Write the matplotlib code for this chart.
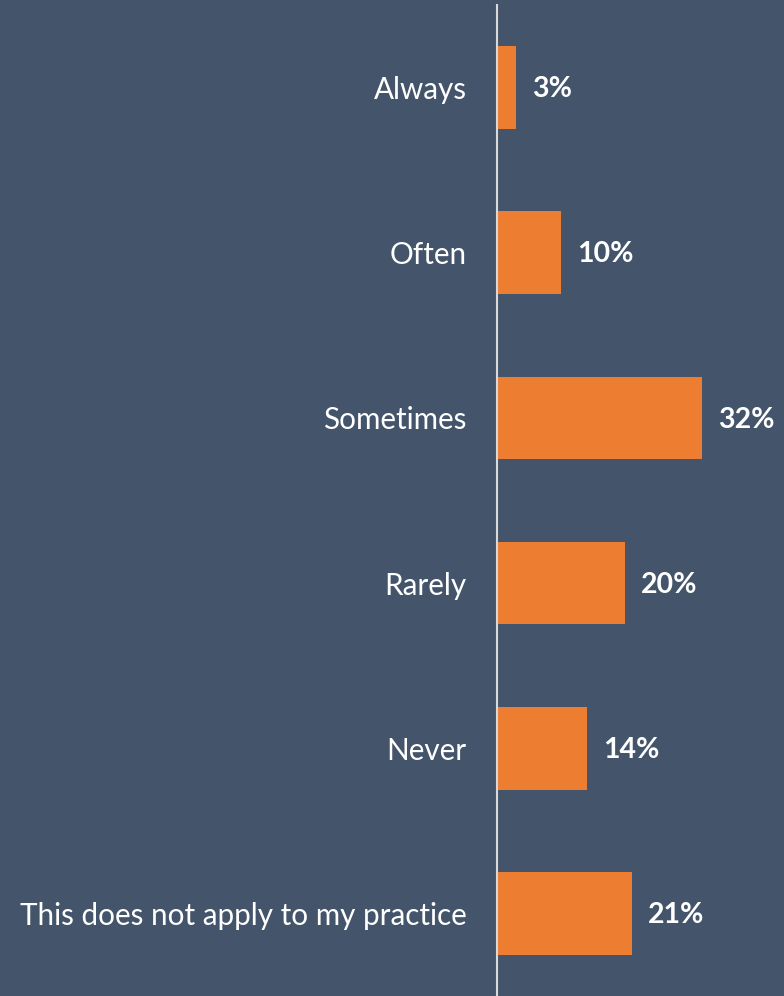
import matplotlib
matplotlib.use("Agg")
import matplotlib.pyplot as plt

categories = ["Always", "Often", "Sometimes", "Rarely", "Never",
              "This does not apply to my practice"]
values = [3, 10, 32, 20, 14, 21]

BG = "#44546A"
BAR = "#ED7D31"

plt.rcParams["font.family"] = ["Lato", "DejaVu Sans"]

fig = plt.figure(figsize=(7.84, 9.96), dpi=100, facecolor=BG)
ax = fig.add_axes([497 / 784, 0.0, 1 - 497 / 784, 991 / 996], facecolor=BG)

y = list(range(len(categories)))
ax.barh(y, values, height=0.5, color=BAR)
ax.set_xlim(0, 44.8)
ax.set_ylim(len(categories) - 0.5, -0.5)

for yi, v in zip(y, values):
    ax.text(v + 2.5, yi + 0.01, f"{v}%", va="center", ha="left",
            color="white", fontsize=20.5, fontweight="bold")

ax.set_yticks(y)
ax.set_yticklabels(categories, color="white", fontsize=21.3)
ax.tick_params(axis="y", length=0, pad=22)
ax.set_xticks([])

for side in ["top", "right", "bottom"]:
    ax.spines[side].set_visible(False)
ax.spines["left"].set_color("#D9D9D9")
ax.spines["left"].set_linewidth(1.5)

fig.savefig("out.png", dpi=100, facecolor=BG)
